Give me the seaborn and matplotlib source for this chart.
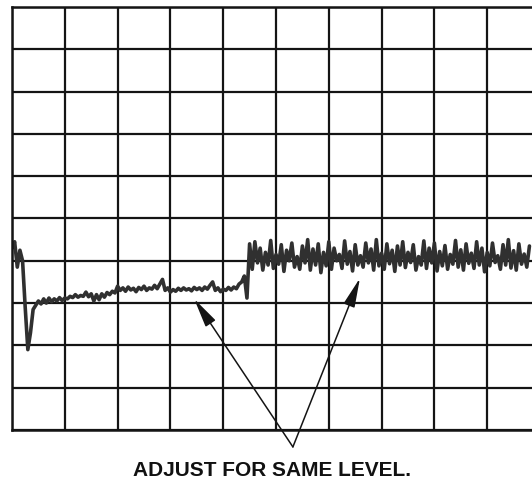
"""Oscilloscope graticule trace: 'ADJUST FOR SAME LEVEL.'"""
import numpy as np
import pandas as pd
import matplotlib
matplotlib.use("Agg")
import matplotlib.pyplot as plt
import seaborn as sns

# Trace, in graticule divisions (one sample every 0.05 div).
SAMPLE_STEP = 0.05
TRACE = [
    4.3, 4.45, 3.85, 4.25, 4.0, 2.9, 1.9, 2.3, 2.85, 2.95,
    3.05, 2.98, 3.1, 3.0, 3.12, 3.03, 3.1, 3.05, 3.13, 3.06,
    3.12, 3.1, 3.16, 3.13, 3.2, 3.14, 3.18, 3.16, 3.26, 3.15,
    3.22, 3.05, 3.2, 3.08, 3.22, 3.14, 3.25, 3.2, 3.28, 3.24,
    3.4, 3.3, 3.36, 3.28, 3.38, 3.31, 3.35, 3.27, 3.37, 3.32,
    3.4, 3.3, 3.36, 3.33, 3.42, 3.34, 3.45, 3.56, 3.3, 3.36,
    3.26, 3.32, 3.28, 3.35, 3.3, 3.36, 3.31, 3.34, 3.29, 3.37,
    3.32, 3.36, 3.3, 3.38, 3.33, 3.42, 3.5, 3.3, 3.36, 3.27,
    3.33, 3.3, 3.37, 3.31, 3.38, 3.34, 3.45, 3.5, 3.64, 3.12,
    4.4, 3.8, 4.45, 3.95, 4.3, 3.78, 4.2, 3.9, 4.48, 3.82,
    4.15, 3.92, 4.38, 3.75, 4.25, 4.0, 4.42, 3.85, 4.1, 3.8,
    4.35, 3.95, 4.5, 3.78, 4.28, 3.9, 4.4, 3.72, 4.2, 3.88,
    4.45, 3.8, 4.3, 4.0, 4.15, 3.82, 4.47, 3.92, 4.22, 3.76,
    4.38, 3.9, 4.12, 3.85, 4.42, 3.95, 4.28, 3.78, 4.5, 3.88,
    4.18, 3.8, 4.4, 3.93, 4.25, 3.75, 4.35, 3.9, 4.45, 3.84,
    4.2, 3.96, 4.38, 3.78, 4.1, 3.9, 4.47, 3.82, 4.3, 3.95,
    4.42, 3.76, 4.22, 3.88, 4.36, 3.8, 4.15, 3.92, 4.48, 3.85,
    4.26, 3.78, 4.4, 3.94, 4.18, 3.82, 4.45, 3.9, 4.3, 3.74,
    4.2, 3.88, 4.42, 3.96, 4.12, 3.8, 4.38, 3.9, 4.5, 3.83,
    4.24, 3.78, 4.4, 3.92, 4.16, 3.85, 4.35,
]

# Arrow tips (divisions) and the common tail below the screen.
ARROW_TIPS = [(3.45, 3.10), (6.59, 3.59)]
ARROW_TAIL = (5.32, -0.40)
CAPTION = "ADJUST FOR SAME LEVEL."

N_DIV_X = 10
N_DIV_Y = 10
INK = "#141414"


def main():
    sns.set_theme(style="white")
    df = pd.DataFrame({"t": np.arange(len(TRACE)) * SAMPLE_STEP, "v": TRACE})

    fig = plt.figure(figsize=(5.32, 4.80), dpi=100)
    ax = fig.add_axes([12 / 532, 50 / 480, 520 / 532, 423 / 480])

    sns.lineplot(data=df, x="t", y="v", estimator=None, sort=False,
                 color="#303030", lw=2.6, ax=ax)

    ax.set_xticks(np.arange(0, N_DIV_X + 1))
    ax.set_yticks(np.arange(0, N_DIV_Y + 1))
    # set limits after ticks: the last column is cut by the frame
    ax.set_xlim(0, 520 / 52.8)
    ax.set_ylim(0, N_DIV_Y)
    ax.grid(True, color=INK, lw=1.6)
    ax.set_axisbelow(True)
    ax.tick_params(length=0, labelbottom=False, labelleft=False)
    ax.set_xlabel(""); ax.set_ylabel("")
    for side in ("left", "top", "bottom"):
        ax.spines[side].set_visible(True)
        ax.spines[side].set_color(INK)
        ax.spines[side].set_linewidth(1.8)
    ax.spines["right"].set_visible(False)

    for tip in ARROW_TIPS:
        ax.annotate("", xy=tip, xytext=ARROW_TAIL, annotation_clip=False,
                    arrowprops=dict(arrowstyle="-|>,head_length=1.5,head_width=0.3",
                                    color=INK, lw=1.1, shrinkA=0, shrinkB=0))

    fig.text(272 / 532, 1 - 470 / 480, CAPTION, ha="center", va="center",
             fontsize=15, fontweight="bold", family="Liberation Sans",
             color="#111111")

    fig.savefig("out.png", dpi=100)
    plt.close(fig)


if __name__ == "__main__":
    main()
